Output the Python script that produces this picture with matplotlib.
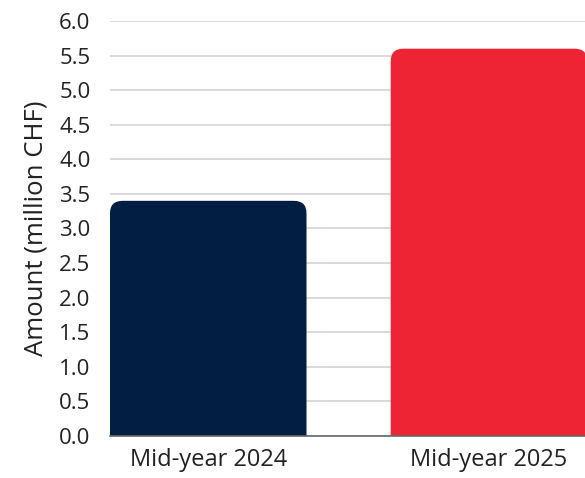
import matplotlib.pyplot as plt
from matplotlib.patches import FancyBboxPatch
import numpy as np

# data
categories = ['Mid-year 2024', 'Mid-year 2025']
amounts = [3.4, 5.6]
bar_colors = ['#021e42', '#ee2435']
yticks = np.arange(0, 6.01, 0.5)

plt.rcParams['font.family'] = ['Open Sans', 'DejaVu Sans']

fig = plt.figure(figsize=(5.85, 4.78), dpi=100)
ax = fig.add_axes([0.188, 0.088, 0.812, 0.868])

x = np.arange(len(categories))
width = 0.7
bars = ax.bar(x, amounts, width=width, color=bar_colors, zorder=2)

# swap plain bars for ones with rounded top corners
for b, c in zip(bars, bar_colors):
    b.set_visible(False)
    patch = FancyBboxPatch((b.get_x(), -1), b.get_width(), b.get_height() + 1,
                           boxstyle="round,pad=0,rounding_size=0.045",
                           mutation_aspect=4.0, facecolor=c, edgecolor='none',
                           zorder=2)
    ax.add_patch(patch)

ax.set_xlim(-0.35, 1.342)
ax.set_ylim(0, 6.0)
ax.set_yticks(yticks)
ax.set_yticklabels([f'{v:.1f}' for v in yticks])
ax.set_xticks(x)
ax.set_xticklabels(categories)

ax.yaxis.grid(True, color='#d3d3d3', linewidth=1.2, zorder=0)
ax.set_axisbelow(True)
for s in ['top', 'right', 'left']:
    ax.spines[s].set_visible(False)
ax.spines['bottom'].set_color('#666666')
ax.spines['bottom'].set_linewidth(1.2)
ax.tick_params(axis='both', length=0, colors='#222222')
ax.tick_params(axis='y', pad=14, labelsize=16)
ax.tick_params(axis='x', pad=9, labelsize=17)
ax.set_ylabel('Amount (million CHF)', fontsize=18.5, color='#222222', labelpad=8)

fig.savefig('out.png', dpi=100)
